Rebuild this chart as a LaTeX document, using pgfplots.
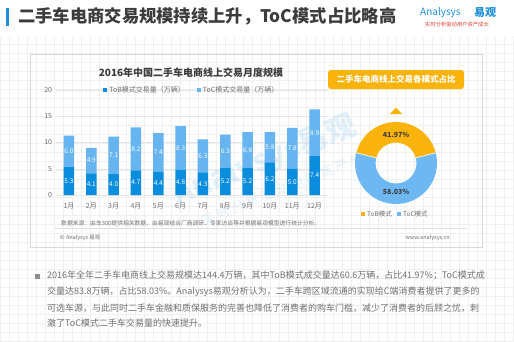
\documentclass[border=0pt]{standalone}
\usepackage{pgfplots}
\pgfplotsset{compat=1.18}
\usepackage{pgfplotstable}
\usepackage{fontspec}
\setmainfont{Noto Sans CJK SC}
\definecolor{tobblue}{HTML}{0A8DDC}
\definecolor{tocblue}{HTML}{66B5F0}
\definecolor{donutorange}{HTML}{FAB30A}
\definecolor{donutblue}{HTML}{6DB8F2}
\definecolor{titlegray}{HTML}{3C3C3C}
\definecolor{textgray}{HTML}{707070}
\definecolor{gridbg}{HTML}{F0F0F0}
\definecolor{logoblue}{HTML}{1E8FD8}
\definecolor{logored}{HTML}{E04030}

\pgfplotstableread{
m tob toc
1 5.3 6.0
2 4.1 4.9
3 4.0 7.1
4 4.7 8.2
5 4.4 7.4
6 4.8 8.3
7 4.3 6.3
8 5.2 6.3
9 5.2 6.8
10 6.2 5.8
11 5.0 7.8
12 7.4 8.9
}\monthly

\begin{document}
\begin{tikzpicture}
% background
\fill[white] (0pt,0pt) rectangle (514pt,341pt);
\useasboundingbox (0pt,0pt) rectangle (514pt,341pt);
\begin{scope}
\clip (0pt,0pt) rectangle (514pt,305pt);
\draw[gridbg, line width=0.4pt] (0pt,0pt) grid[step=9pt] (514pt,305pt);
\end{scope}
% header
\fill[logoblue] (6pt,315pt) rectangle (8.5pt,333pt);
\node[anchor=west, inner sep=0, text=titlegray, font=\fontsize{17.3}{18}\selectfont\bfseries] at (18pt,325pt) {二手车电商交易规模持续上升，ToC模式占比略高};
\node[anchor=west, inner sep=0, text=logoblue, font=\fontsize{10}{10}\selectfont] at (420pt,328pt) {Analysys};
\node[anchor=west, inner sep=0, text=logoblue, font=\fontsize{11}{11}\selectfont\bfseries] at (474pt,328.5pt) {易观};
\node[anchor=west, inner sep=0, text=logored, font=\fontsize{5.3}{6}\selectfont] at (425pt,317pt) {实时分析驱动用户资产成长};
% panel
\draw[black!15, line width=0.6pt] (30pt,94pt) rectangle (482pt,287pt);
% watermark
\node[rotate=22, opacity=0.12, text=logoblue, font=\fontsize{30}{30}\selectfont\bfseries] at (265pt,180pt) {Analysys易观};
\node[rotate=22, opacity=0.12, text=logoblue, font=\fontsize{13}{13}\selectfont] at (290pt,155pt) {实 时 分 析 驱 动 用 户 资 产 成 长};
% chart title
\node[text=titlegray, font=\fontsize{10}{10}\selectfont\bfseries, inner sep=0] at (191pt,268pt) {2016年中国二手车电商线上交易月度规模};
% bar chart
\begin{axis}[
  at={(55.6pt,146pt)}, anchor=south west, scale only axis,
  width=272.4pt, height=105pt,
  ybar stacked, bar width=10.5pt,
  xmin=0.4, xmax=12.6, ymin=0, ymax=20,
  xtick=data, xticklabels={1月,2月,3月,4月,5月,6月,7月,8月,9月,10月,11月,12月},
  ytick={0,5,10,15,20},
  axis line style={draw=none},
  major tick length=0pt,
  ymajorgrids, grid style={draw=black!10, line width=0.5pt},
  tick label style={font=\fontsize{7}{7}\selectfont, text=textgray},
  xticklabel style={yshift=-4pt},
  /pgf/number format/assume math mode=true,
  legend columns=2,
  legend style={at={(0.5,1)}, anchor=center, draw=none, fill=none,
    font=\fontsize{7}{7}\selectfont, text=textgray,
    /tikz/every even column/.append style={column sep=10pt}},
  legend image code/.code={\fill[#1] (0pt,-2pt) rectangle (4pt,2pt);},
]
\addplot[fill=tobblue, draw=none] table[x=m,y=tob]{\monthly};
\addplot[fill=tocblue, draw=none] table[x=m,y=toc]{\monthly};
\legend{ToB模式交易量（万辆）,ToC模式交易量（万辆）}
\end{axis}
\begin{axis}[
  at={(55.6pt,146pt)}, anchor=south west, scale only axis,
  width=272.4pt, height=105pt,
  xmin=0.4, xmax=12.6, ymin=0, ymax=20, hide axis,
  nodes near coords, point meta=explicit symbolic,
  every node near coord/.style={font=\fontsize{6.5}{6.5}\selectfont, text=white, anchor=center, inner sep=0},
]
\addplot[draw=none, mark=none, only marks] table[x=m, y expr={\thisrow{tob}/2}, meta=tob]{\monthly};
\addplot[draw=none, mark=none, only marks] table[x=m, y expr={\thisrow{tob}+\thisrow{toc}/2}, meta=toc]{\monthly};
\end{axis}
% data source and footer
\node[anchor=west, inner sep=0, text=textgray, font=\fontsize{5.8}{6}\selectfont] at (61pt,118pt) {数据来源：由车300提供相关数据，由易观结合厂商调研、专家访谈等并根据易观模型进行统计分析。};
\draw[black!12, line width=0.5pt] (55pt,113pt) -- (467pt,113pt);
\node[anchor=west, inner sep=0, text=textgray, font=\fontsize{5.5}{6}\selectfont] at (60pt,103pt) {© Analysys 易观};
\node[anchor=east, inner sep=0, text=textgray, font=\fontsize{5.5}{6}\selectfont] at (450pt,103pt) {www.analysys.cn};
% donut
\fill[donutorange, rounded corners=3pt] (328pt,252pt) rectangle (464pt,271pt);
\node[text=white, font=\fontsize{8.5}{9}\selectfont\bfseries, inner sep=0] at (396pt,261.5pt) {二手车电商线上交易各模式占比};
\fill[donutorange] (390pt,227pt) -- (402pt,227pt) -- (396pt,233.5pt) -- cycle;
\pgfmathsetmacro{\tobshare}{41.97}
\pgfmathsetmacro{\halfang}{\tobshare*3.6/2}
\pgfmathsetmacro{\angA}{90-\halfang}
\pgfmathsetmacro{\angB}{90+\halfang}
\pgfmathsetmacro{\angC}{450-\halfang}
\begin{scope}[shift={(396pt,178pt)}]
\fill[donutorange] (\angA:41pt) arc[start angle=\angA, end angle=\angB, radius=41pt] -- (\angB:20.5pt) arc[start angle=\angB, end angle=\angA, radius=20.5pt] -- cycle;
\fill[donutblue] (\angB:41pt) arc[start angle=\angB, end angle=\angC, radius=41pt] -- (\angC:20.5pt) arc[start angle=\angC, end angle=\angB, radius=20.5pt] -- cycle;
\draw[white, line width=0.6pt] (\angA:20.5pt) -- (\angA:41pt) (\angB:20.5pt) -- (\angB:41pt);
\node[text=titlegray, font=\fontsize{7}{7}\selectfont\bfseries] at (0pt,28pt) {41.97\%};
\node[text=titlegray, font=\fontsize{7}{7}\selectfont\bfseries] at (0pt,-29pt) {58.03\%};
\end{scope}
\fill[donutorange] (361pt,125pt) rectangle (365pt,129pt);
\node[anchor=west, inner sep=0, text=textgray, font=\fontsize{6.5}{7}\selectfont] at (367pt,127pt) {ToB模式};
\fill[donutblue] (397pt,125pt) rectangle (401pt,129pt);
\node[anchor=west, inner sep=0, text=textgray, font=\fontsize{6.5}{7}\selectfont] at (403pt,127pt) {ToC模式};
% paragraph
\fill[black!45] (35pt,62.5pt) rectangle (39.5pt,67pt);
\begin{scope}[every node/.style={anchor=west, inner sep=0, text=textgray, font=\fontsize{9}{9}\selectfont}]
\node at (47pt,66pt) {2016年全年二手车电商线上交易规模达144.4万辆，其中ToB模式成交量达60.6万辆，占比41.97\%；ToC模式成};
\node at (47pt,49pt) {交量达83.8万辆，占比58.03\%。Analysys易观分析认为，二手车跨区域流通的实现给C端消费者提供了更多的};
\node at (47pt,33pt) {可选车源，与此同时二手车金融和质保服务的完善也降低了消费者的购车门槛，减少了消费者的后顾之忧，刺};
\node at (47pt,17.5pt) {激了ToC模式二手车交易量的快速提升。};
\end{scope}
\end{tikzpicture}
\end{document}
